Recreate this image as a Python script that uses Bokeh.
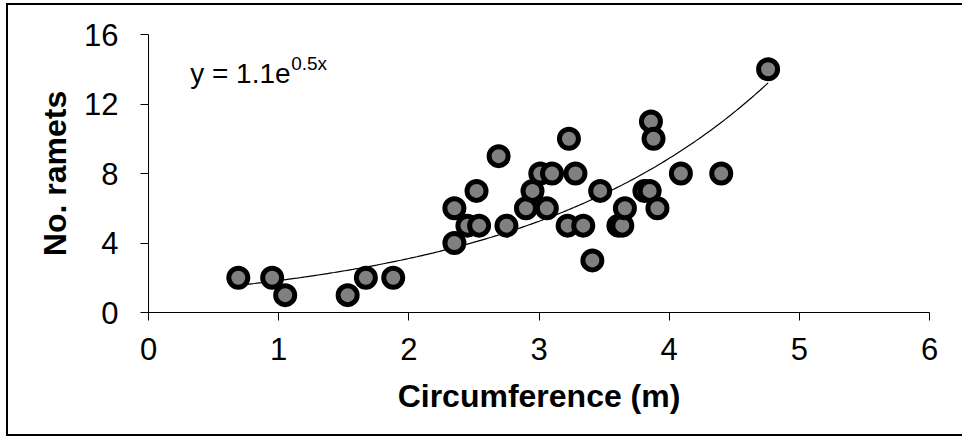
import numpy as np
from bokeh.plotting import figure
from bokeh.models import Range1d, FixedTicker, Label, ColumnDataSource
from bokeh.embed import file_html
from bokeh.resources import INLINE

# Data
circumference = [0.69, 0.95, 1.05, 1.53, 1.67, 1.88, 2.35, 2.35, 2.45, 2.54,
                 2.52, 2.69, 2.75, 2.90, 2.95, 3.01, 3.06, 3.10, 3.22, 3.23,
                 3.28, 3.34, 3.41, 3.47, 3.61, 3.64, 3.66, 3.81, 3.85, 3.86,
                 3.88, 3.91, 4.09, 4.40, 4.76]
ramets = [2, 2, 1, 1, 2, 2, 6, 4, 5, 5,
          7, 9, 5, 6, 7, 8, 6, 8, 5, 10,
          8, 5, 3, 7, 5, 5, 6, 7, 7, 11,
          10, 6, 8, 8, 14]
x_ticks = [0, 1, 2, 3, 4, 5, 6]
y_ticks = [0, 4, 8, 12, 16]
equation_main = "y = 1.1e"
equation_sup = "0.5x"

FONT = "Liberation Sans"

p = figure(width=956, height=433,
           x_range=Range1d(0, 6), y_range=Range1d(0, 16),
           output_backend="svg", toolbar_location=None,
           min_border_left=140, min_border_right=35,
           min_border_top=29, min_border_bottom=126,
           styles={"margin-left": "6px", "margin-top": "3px",
                   "border-left": "2px solid black",
                   "border-top": "2px solid black",
                   "border-bottom": "2px solid black"})

p.xgrid.visible = False
p.ygrid.visible = False
p.outline_line_color = None
p.background_fill_color = "white"
p.border_fill_color = "white"

for ax in (p.xaxis[0], p.yaxis[0]):
    ax.axis_line_color = "black"
    ax.axis_line_width = 1
    ax.major_tick_line_color = "black"
    ax.major_tick_out = 8
    ax.major_tick_in = 0
    ax.minor_tick_line_color = None
    ax.major_label_text_font = FONT
    ax.major_label_text_font_size = "31px"
    ax.major_label_text_color = "black"
    ax.axis_label_text_font = FONT
    ax.axis_label_text_font_size = "32px"
    ax.axis_label_text_font_style = "bold"
    ax.axis_label_text_color = "black"

p.xaxis.ticker = FixedTicker(ticks=x_ticks)
p.yaxis.ticker = FixedTicker(ticks=y_ticks)
p.xaxis.axis_label = "Circumference (m)"
p.yaxis.axis_label = "No. ramets"
p.xaxis.major_label_standoff = 17
p.yaxis.major_label_standoff = 22
p.xaxis.axis_label_standoff = 15
p.yaxis.axis_label_standoff = 8

# Exponential trendline fitted to the data (least squares on log y)
xs = np.array(circumference, dtype=float)
ys = np.array(ramets, dtype=float)
b, ln_a = np.polyfit(xs, np.log(ys), 1)
a = np.exp(ln_a)
xf = np.linspace(xs.min(), xs.max(), 200)
yf = a * np.exp(b * xf)
p.line(xf, yf, line_color="black", line_width=1.2)

src = ColumnDataSource(dict(x=circumference, y=ramets))
p.scatter("x", "y", source=src, size=19, fill_color="#808080",
          line_color="black", line_width=5)

lab1 = Label(x=0.32, y=13.76, text=equation_main, text_font=FONT,
             text_font_size="28px", text_color="black",
             text_baseline="alphabetic", text_align="left")
lab2 = Label(x=0.32, y=13.76, x_offset=101, y_offset=10, text=equation_sup,
             text_font=FONT, text_font_size="19px", text_color="black",
             text_baseline="alphabetic", text_align="left")
p.add_layout(lab1)
p.add_layout(lab2)

open("out.html", "w").write(file_html(p, INLINE))
